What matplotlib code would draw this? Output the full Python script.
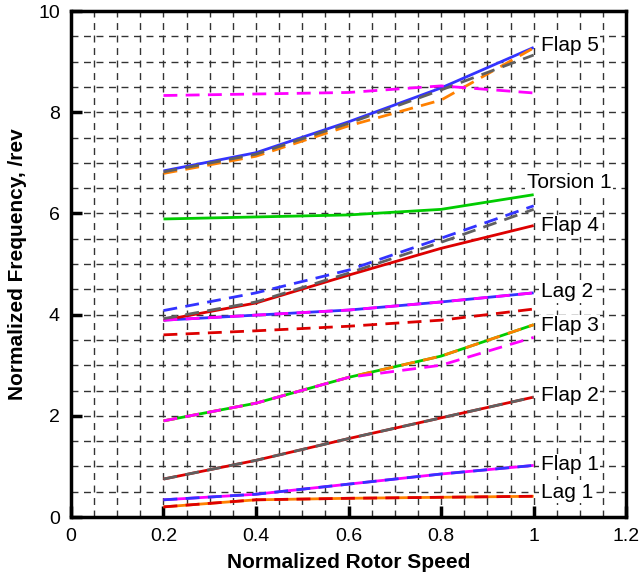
import matplotlib
matplotlib.use("Agg")
import matplotlib.pyplot as plt
from matplotlib.ticker import MultipleLocator

plt.rcParams["font.family"] = ["Liberation Sans", "DejaVu Sans"]

# normalized rotor speed stations
speed = [0.2, 0.4, 0.6, 0.8, 1.0]

# solid curves
lag1_a = [0.20, 0.34, 0.37, 0.39, 0.41]
flap1_a = [0.34, 0.45, 0.65, 0.85, 1.02]
flap2_a = [0.75, 1.12, 1.55, 1.96, 2.37]
flap3_a = [1.90, 2.25, 2.76, 3.18, 3.80]
lag2_a = [3.89, 3.99, 4.09, 4.25, 4.43]
flap4_a = [3.89, 4.23, 4.78, 5.31, 5.76]
torsion1_a = [5.89, 5.93, 5.97, 6.08, 6.37]
flap5_a = [6.84, 7.20, 7.81, 8.48, 9.28]

# dashed curves
lag1_b = [0.20, 0.34, 0.37, 0.39, 0.41]
flap1_b = [0.34, 0.45, 0.65, 0.85, 1.02]
flap2_b = [0.75, 1.12, 1.55, 1.96, 2.37]
flap3_b = [1.90, 2.25, 2.76, 3.18, 3.80]
flap3_c = [1.90, 2.25, 2.76, 3.00, 3.55]
lag2_b = [3.89, 3.99, 4.09, 4.25, 4.43]
lag2_c = [3.60, 3.68, 3.77, 3.89, 4.11]
flap4_b = [3.92, 4.25, 4.82, 5.43, 6.08]
flap4_c = [4.08, 4.43, 4.88, 5.51, 6.15]
flap5_b = [6.79, 7.13, 7.73, 8.24, 9.27]
flap5_c = [6.82, 7.17, 7.78, 8.44, 9.13]
high_b = [8.33, 8.36, 8.39, 8.52, 8.38]

mode_names = ["Flap 5", "Torsion 1", "Flap 4", "Lag 2", "Flap 3", "Flap 2", "Flap 1", "Lag 1"]
mode_y = [9.32, 6.62, 5.76, 4.45, 3.78, 2.41, 1.03, 0.49]

fig = plt.figure(figsize=(6.39, 5.76), dpi=100)
ax = fig.add_axes([0.111, 0.1024, 0.869, 0.8785])

solid = [
    (lag1_a, "#ff8000"),
    (flap1_a, "#ff00ff"),
    (flap2_a, "#dd0000"),
    (flap3_a, "#00cc00"),
    (lag2_a, "#3333ff"),
    (flap4_a, "#dd0000"),
    (torsion1_a, "#00cc00"),
    (flap5_a, "#3333ff"),
]
for vals, c in solid:
    plt.plot(speed, vals, c=c, lw=2, solid_capstyle="butt", zorder=3)

dashed = [
    (lag1_b, "#dd0000"),
    (flap1_b, "#3333ff"),
    (flap2_b, "#606060"),
    (flap3_b, "#ff8000"),
    (flap3_c, "#ff00ff"),
    (lag2_b, "#ff00ff"),
    (lag2_c, "#dd0000"),
    (flap4_b, "#606060"),
    (flap4_c, "#3333ff"),
    (flap5_b, "#ff8000"),
    (flap5_c, "#606060"),
    (high_b, "#ff00ff"),
]
for vals, c in dashed:
    plt.plot(speed, vals, c=c, lw=2, ls=(0, (5, 3)), dash_capstyle="butt", zorder=4)

# mode names sit on white boxes so the grid doesn't run through them
box = dict(facecolor="white", edgecolor="none", pad=1)
for name, y in zip(mode_names, mode_y):
    x0 = 0.985 if name == "Torsion 1" else 1.015
    plt.text(x0, y, name, fontsize=15, ha="left", va="center", bbox=box, zorder=5)

plt.xlim(0, 1.2)
plt.ylim(0, 10)
ax.xaxis.set_minor_locator(MultipleLocator(0.05))
ax.yaxis.set_minor_locator(MultipleLocator(0.5))
ax.set_xticks([0, 0.2, 0.4, 0.6, 0.8, 1.0, 1.2])
ax.set_xticklabels(["0", "0.2", "0.4", "0.6", "0.8", "1", "1.2"])
ax.set_yticks([0, 2, 4, 6, 8, 10])
ax.set_yticklabels(["0", "2", "4", "6", "8", "10"])

ax.grid(which="both", color="#333333", ls=(0, (5, 4)), lw=1, zorder=1)
ax.tick_params(axis="both", which="major", direction="in", length=8, width=2.5,
               labelsize=14, pad=8)
ax.tick_params(axis="both", which="minor", length=0)
for s in ax.spines.values():
    s.set_linewidth(2.5)
    s.set_zorder(6)

plt.xlabel("Normalized Rotor Speed", fontsize=15, fontweight="bold", labelpad=6)
plt.ylabel("Normalized Frequency, /rev", fontsize=15, fontweight="bold", labelpad=8)

fig.savefig("out.png", dpi=100)
